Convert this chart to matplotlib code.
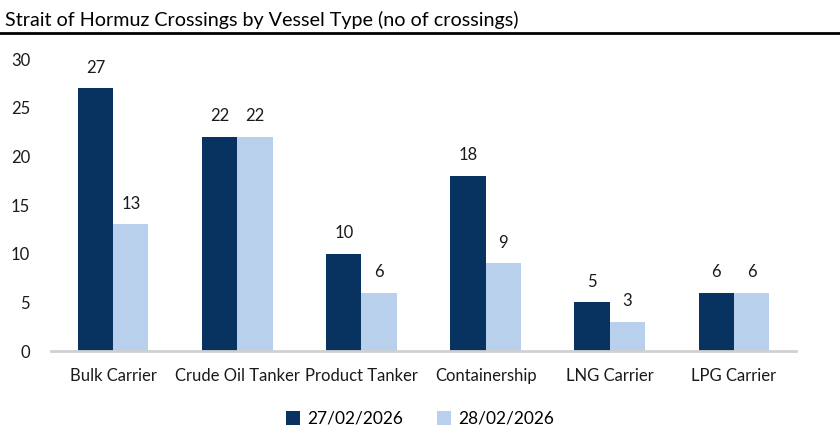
import numpy as np
import matplotlib.pyplot as plt
from matplotlib.lines import Line2D

# data
categories = ['Bulk Carrier', 'Crude Oil Tanker', 'Product Tanker', 'Containership', 'LNG Carrier', 'LPG Carrier']
series_names = ['27/02/2026', '28/02/2026']
day1 = [27, 22, 10, 18, 5, 6]
day2 = [13, 22, 6, 9, 3, 6]
colors = ['#08325F', '#B9D0EC']

plt.rcParams['font.family'] = ['Lato', 'DejaVu Sans']

fig = plt.figure(figsize=(8.4, 4.37), dpi=100)
ax = fig.add_axes([51 / 840, 1 - 351 / 437, 745 / 840, 292 / 437 * 31.5 / 30])

x = np.arange(len(categories))
w = 0.285
b1 = ax.bar(x - w / 2, day1, w, color=colors[0], label=series_names[0])
b2 = ax.bar(x + w / 2, day2, w, color=colors[1], label=series_names[1])
for bars in (b1, b2):
    ax.bar_label(bars, padding=9, fontsize=12, color='#1a1a1a')

ax.set_xlim(-0.5, len(categories) - 0.5)
ax.set_ylim(0, 31.5)
ax.set_yticks(range(0, 31, 5))
ax.set_xticks(x)
ax.set_xticklabels(categories)
ax.tick_params(axis='both', length=0, labelsize=12, colors='#1a1a1a')
ax.tick_params(axis='x', pad=12)
ax.tick_params(axis='y', pad=15)
for s in ['top', 'right', 'left']:
    ax.spines[s].set_visible(False)
ax.spines['bottom'].set_color('#D0D0D0')
ax.spines['bottom'].set_linewidth(2)

# title and rule
fig.text(5 / 840, 1 - 20 / 437, 'Strait of Hormuz Crossings by Vessel Type (no of crossings)',
         fontsize=14.2, va='center', ha='left', color='black')
fig.add_artist(Line2D([0, 1], [1 - 33 / 437] * 2, color='black', lw=2, transform=fig.transFigure))

fig.legend(loc='center', bbox_to_anchor=(420 / 840, 1 - 419 / 437), ncol=2, frameon=False,
           fontsize=12.5, handlelength=0.8, handleheight=0.8, columnspacing=2.0, handletextpad=0.4)

fig.savefig('out.png', dpi=100)
